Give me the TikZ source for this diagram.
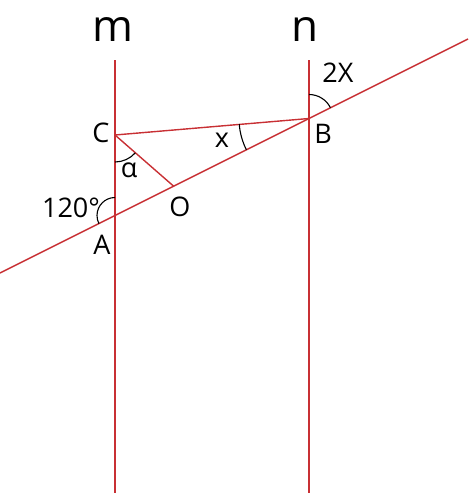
\documentclass[tikz,border=0pt]{standalone}
\usepackage{fontspec}
\setmainfont{Open Sans}
\begin{document}
\begin{tikzpicture}[x=1pt,y=-1pt,
  redline/.style={draw={rgb,255:red,200;green,48;blue,52}, line width=1.4pt},
  arcline/.style={draw=black, line width=1.1pt},
  lbl/.style={font=\fontsize{27}{27}\selectfont, inner sep=0pt},
  big/.style={font=\fontsize{44}{44}\selectfont, inner sep=0pt}]
\useasboundingbox (0,0) rectangle (470,496);
\coordinate (mt) at (115,60);
\coordinate (mb) at (115,493);
\coordinate (nt) at (309,60);
\coordinate (nb) at (309,493);
\coordinate (tl) at (0,273);
\coordinate (tr) at (468,39);
\coordinate (A) at (115,215.5);
\coordinate (B) at (309,118.5);
\coordinate (C) at (115,135);
\coordinate (O) at (174,186.5);
\draw[redline] (mt) -- (mb);
\draw[redline] (nt) -- (nb);
\draw[redline] (tl) -- (tr);
\draw[redline] (C) -- (B);
\draw[redline] (C) -- (O);
\draw[arcline] (A) ++(-90:18) arc[start angle=-90, end angle=-207, radius=18];
\draw[arcline] (C) ++(90:27) arc[start angle=90, end angle=41.4, radius=27];
\draw[arcline] (B) ++(-90:24) arc[start angle=-90, end angle=-26.6, radius=24];
\draw[arcline] (B) ++(175.3:70) arc[start angle=175.3, end angle=153.4, radius=70];
\node[big] (lm) at (113,30) {m};
\node[big] (ln) at (305,30) {n};
\node[lbl] (lC) at (101,133) {C};
\node[lbl] (lB) at (323,134) {B};
\node[lbl] (lx) at (222,140) {x};
\node[lbl] (la) at (129,170) {α};
\node[lbl] (lO) at (180,207) {O};
\node[lbl] (l120) at (71,208) {120°};
\node[lbl] (lA) at (102,245) {A};
\node[lbl] (l2X) at (338,73) {2X};
\end{tikzpicture}
\end{document}
